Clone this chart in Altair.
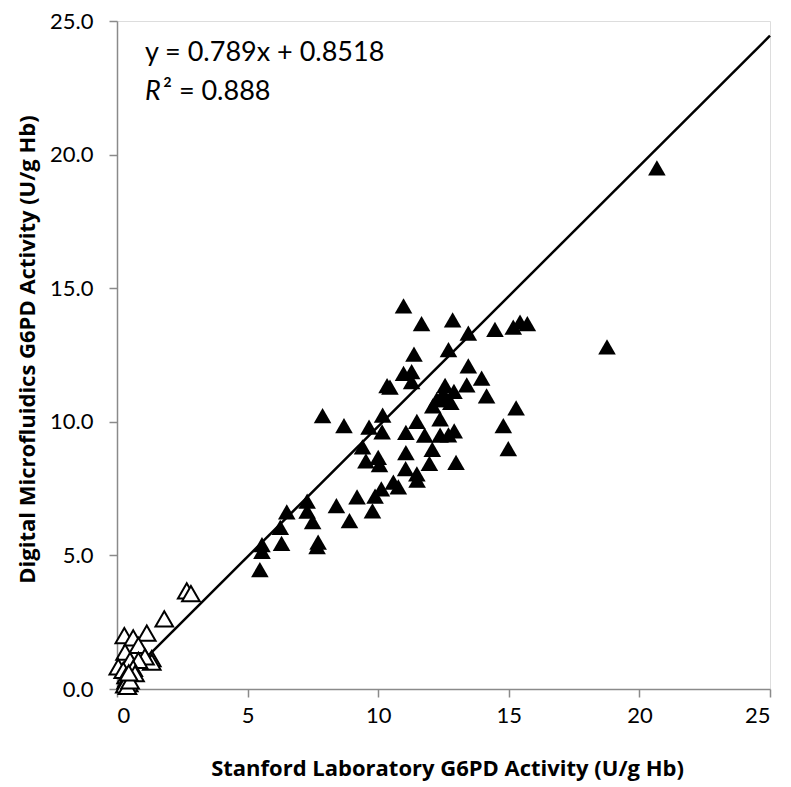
import altair as alt
import pandas as pd

# Filled triangles (Stanford lab value, Digital microfluidics value)
filled_x = [10.97, 11.66, 12.85, 13.45, 14.47, 15.17, 15.43, 15.71, 11.37, 12.69,
            13.45, 10.97, 11.28, 11.28, 10.34, 10.45, 13.96, 13.39, 14.15, 12.56,
            12.90, 12.49, 12.24, 12.09, 12.56, 12.78, 15.28, 12.37, 14.79, 14.98,
            7.87, 8.69, 9.65, 10.17, 10.15, 11.48, 11.06, 11.78, 12.37, 12.69,
            12.91, 9.40, 9.53, 10.00, 10.05, 11.06, 12.07, 11.96, 12.98, 11.05,
            11.48, 11.49, 10.58, 10.77, 10.12, 9.88, 9.19, 9.78, 8.40, 8.90,
            7.28, 7.28, 7.49, 7.66, 7.70, 6.50, 6.25, 6.30, 5.55, 5.55,
            5.47, 18.76, 20.67]
filled_y = [14.34, 13.67, 13.81, 13.32, 13.46, 13.54, 13.73, 13.67, 12.53, 12.70,
            12.09, 11.81, 11.88, 11.50, 11.35, 11.30, 11.63, 11.38, 10.97, 11.36,
            11.14, 11.07, 10.83, 10.60, 10.83, 10.73, 10.52, 10.11, 9.86, 9.00,
            10.23, 9.86, 9.80, 10.25, 9.62, 10.02, 9.60, 9.50, 9.50, 9.51,
            9.66, 9.06, 8.54, 8.67, 8.40, 8.85, 8.97, 8.44, 8.48, 8.25,
            8.05, 7.82, 7.74, 7.56, 7.49, 7.22, 7.19, 6.67, 6.86, 6.30,
            7.03, 6.66, 6.26, 5.33, 5.50, 6.63, 6.05, 5.45, 5.40, 5.15,
            4.47, 12.80, 19.50]

# Open triangles
open_x = [2.67, 2.83, 1.81, 0.28, 0.62, 1.14, 0.82, 1.33, 1.33, 1.07,
          0.31, 0.50, 0.82, 0.05, 0.24, 0.62, 0.69, 0.35, 0.40, 0.35,
          0.45, 0.30, 0.40, 0.50, 0.45]
open_y = [3.67, 3.57, 2.62, 2.00, 1.91, 2.09, 1.63, 1.14, 1.01, 1.20,
          1.38, 1.07, 1.07, 0.83, 0.70, 0.77, 0.58, 0.50, 0.40, 0.30,
          0.20, 0.15, 0.10, 0.30, 0.60]

# Drawn reference line (as shown in the figure)
line_x = [1.2, 25.0]
line_y = [1.25, 24.45]

# Annotation text
eq_label = ["y = 0.789x + 0.8518"]
eq_x = [1.07]
eq_y = [23.8]
r_label = ["R"]
r2_label = ["\u00b2 = 0.888"]
r_x = [1.07]
r_y = [22.35]

x_ticks = [0, 5, 10, 15, 20, 25]
y_ticks = [0, 5, 10, 15, 20, 25]

FONT = "Lato"
TFONT = "Open Sans"
AXIS_COLOR = "#8a8a8a"

xscale = alt.Scale(domain=[0, 25], nice=False, zero=False)
yscale = alt.Scale(domain=[0, 25], nice=False, zero=False)

xaxis = alt.Axis(values=x_ticks, format="d", title="Stanford Laboratory G6PD Activity (U/g Hb)",
                 grid=False, domainColor=AXIS_COLOR, domainWidth=1.5, tickColor=AXIS_COLOR,
                 tickWidth=1.5, tickSize=8, labelPadding=8, labelFontSize=22, labelFont=FONT,
                 labelColor="black", titleFont=TFONT, titleFontSize=22, titleFontWeight="bold",
                 titleColor="black", titleBaseline="alphabetic", titleY=86, titleX=330)
yaxis = alt.Axis(values=y_ticks, format=".1f", title="Digital Microfluidics G6PD Activity (U/g Hb)",
                 grid=False, domainColor=AXIS_COLOR, domainWidth=1.5, tickColor=AXIS_COLOR,
                 tickWidth=1.5, tickSize=8, labelPadding=16, labelFontSize=22, labelFont=FONT,
                 labelColor="black", titleFont=TFONT, titleFontSize=22, titleFontWeight="bold",
                 titleColor="black", titleBaseline="alphabetic", titleX=-83, titleY=328)

df_f = pd.DataFrame({"x": filled_x, "y": filled_y})
df_o = pd.DataFrame({"x": open_x, "y": open_y})
df_l = pd.DataFrame({"x": line_x, "y": line_y})
df_eq = pd.DataFrame({"x": eq_x, "y": eq_y, "t": eq_label})
df_r = pd.DataFrame({"x": r_x, "y": r_y, "t": r_label})
df_r2 = pd.DataFrame({"x": r_x, "y": r_y, "t": r2_label})

base_enc = dict(x=alt.X("x:Q", scale=xscale, axis=xaxis),
                y=alt.Y("y:Q", scale=yscale, axis=yaxis))

line = alt.Chart(df_l).mark_line(color="black", strokeWidth=2.5).encode(**base_enc)

open_pts = alt.Chart(df_o).mark_point(shape="triangle-up", size=310, filled=False,
                                       fill="white", fillOpacity=1, stroke="black",
                                       strokeWidth=2, opacity=1).encode(**base_enc)
filled_pts = alt.Chart(df_f).mark_point(shape="triangle-up", size=310, filled=True,
                                         color="black", opacity=1).encode(**base_enc)

eq = alt.Chart(df_eq).mark_text(align="left", baseline="middle", fontSize=27, font=FONT,
                                color="black").encode(x="x:Q", y="y:Q", text="t:N")
r = alt.Chart(df_r).mark_text(align="left", baseline="middle", fontSize=27, font=FONT,
                              fontStyle="italic", color="black").encode(x="x:Q", y="y:Q", text="t:N")
r2 = alt.Chart(df_r2).mark_text(align="left", baseline="middle", fontSize=27, font=FONT,
                                dx=18, color="black").encode(x="x:Q", y="y:Q", text="t:N")

chart = alt.layer(line, open_pts, filled_pts, eq, r, r2).properties(
    width=653, height=668,
    autosize=alt.AutoSizeParams(type="none"),
    padding={"left": 109, "top": 13, "right": 13, "bottom": 96},
).configure_view(stroke=None).configure(background="white")

chart.save("out.html", embed_options={"renderer": "svg", "actions": False})
